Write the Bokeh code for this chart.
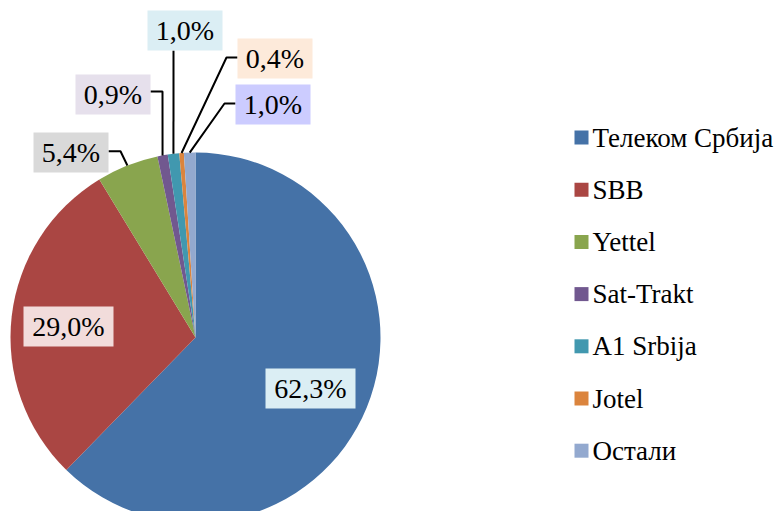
import numpy as np
from bokeh.plotting import figure
from bokeh.models import Range1d, ColumnDataSource
from bokeh.core.properties import value
from bokeh.embed import file_html
from bokeh.resources import INLINE

# ---- data ----
categories = ["Телеком Србија", "SBB", "Yettel", "Sat-Trakt", "A1 Srbija", "Jotel", "Остали"]
shares = [62.3, 29.0, 5.4, 0.9, 1.0, 0.4, 1.0]

# ---- styles ----
colors = ["#4572A7", "#AA4643", "#89A54E", "#71588F", "#4198AF", "#DB843D", "#93A9CF"]
label_fills = ["#DBEEF4", "#F2DCDB", "#D9D9D9", "#E6E0EC", "#DBEEF4", "#FDEADA", "#CCCCFF"]
FONT = value("Liberation Serif")

W, H = 776, 511
CX, CY, R = 187, 182, 185

p = figure(width=W, height=H, x_range=Range1d(-8, W - 8), y_range=Range1d(8, H + 8),
           output_backend="svg", toolbar_location=None, min_border=0,
           x_axis_location=None, y_axis_location=None)
p.grid.visible = False
p.outline_line_color = None
p.background_fill_color = "white"
p.border_fill_color = "white"

# ---- pie (clockwise from 12 o'clock) ----
total = float(sum(shares))
cum = np.concatenate([[0.0], np.cumsum(shares)]) / total
start = np.pi / 2 - cum[:-1] * 2 * np.pi
end = np.pi / 2 - cum[1:] * 2 * np.pi
mid = (start + end) / 2

src = ColumnDataSource(dict(start=start, end=end, color=colors))
p.wedge(x=CX, y=CY, radius=R, start_angle="start", end_angle="end",
        direction="clock", fill_color="color", line_color=None, source=src)

# ---- data labels (layout positions) ----
label_pos = [(302, 131), (60, 193), (62.5, 367), (104.5, 425), (176.5, 489), (266.5, 461), (264.5, 415)]
label_txt = [f"{v:.1f}".replace(".", ",") + "%" for v in shares]
box_w = [75 if len(t) <= 4 else 90 for t in label_txt]

lsrc = ColumnDataSource(dict(x=[q[0] for q in label_pos], y=[q[1] for q in label_pos],
                             w=box_w, fill=label_fills, text=label_txt))

# leader lines for small slices: (start, elbow) then to the slice edge at its mid-angle
leaders = {2: [(100, 368.3), (112, 368.3)],
           3: [(142, 428), (154, 428)],
           4: [(165, 469)],
           5: [(229, 462), (218, 462)],
           6: [(227, 416), (216, 416)]}
xs, ys = [], []
for i, pts in leaders.items():
    ex = CX + R * np.cos(mid[i])
    ey = CY + R * np.sin(mid[i])
    xs.append([q[0] for q in pts] + [ex])
    ys.append([q[1] for q in pts] + [ey])
p.multi_line(xs=xs, ys=ys, line_color="black", line_width=2)

p.rect(x="x", y="y", width="w", height=40, fill_color="fill", line_color=None, source=lsrc)
p.text(x="x", y="y", text="text", text_align="center", text_baseline="middle",
       text_font=FONT, text_font_size="28px", text_color="black", source=lsrc)

# ---- legend ----
leg_y = [382 - i * 52.2 for i in range(len(categories))]
p.rect(x=[573] * len(categories), y=leg_y, width=14, height=14, fill_color=colors, line_color=None)
p.text(x=[584] * len(categories), y=leg_y, text=categories, text_align="left", text_baseline="middle",
       text_font=FONT, text_font_size="27px", text_color="black")

open("out.html", "w").write(file_html(p, INLINE))
